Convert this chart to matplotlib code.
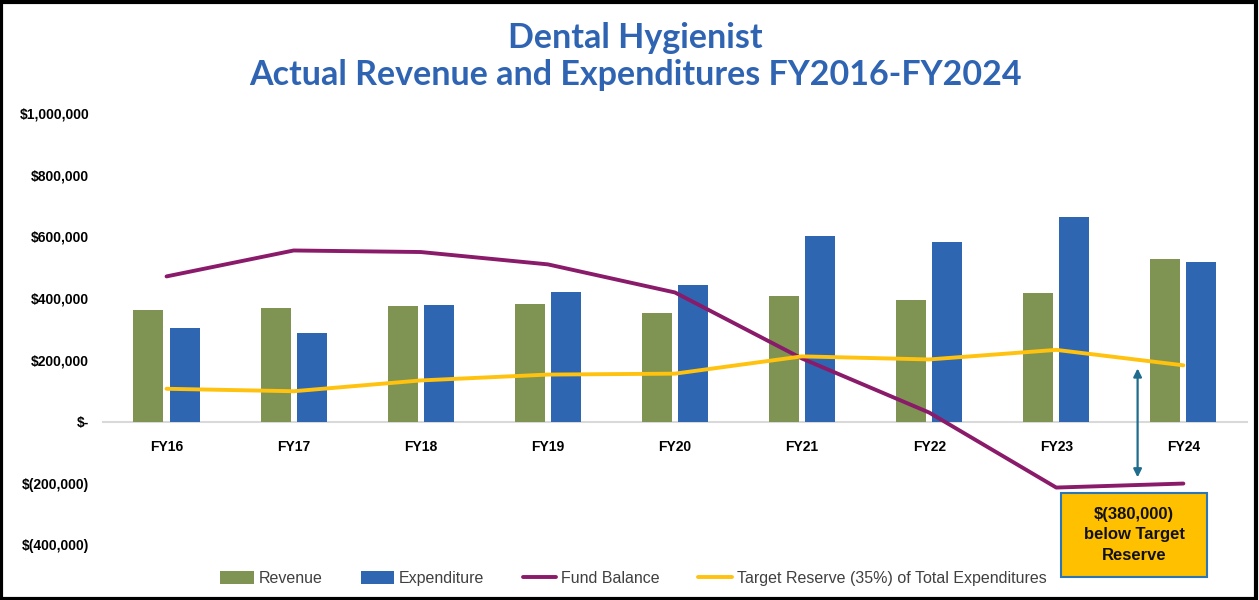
import matplotlib
matplotlib.use("Agg")
import matplotlib.pyplot as plt
import numpy as np
from matplotlib.ticker import FuncFormatter
from matplotlib.patches import Rectangle

categories = ["FY16", "FY17", "FY18", "FY19", "FY20", "FY21", "FY22", "FY23", "FY24"]
revenue = [362000, 367000, 373000, 381000, 351000, 406000, 392000, 417000, 527000]
expenditure = [302000, 286000, 378000, 418000, 443000, 602000, 583000, 662000, 516000]
fund_balance = [470000, 554000, 549000, 509000, 418000, 204000, 29000, -214000, -201000]
target_reserve = [106000, 98000, 133000, 152000, 155000, 211000, 201000, 232000, 182000]
y_ticks = [-400000, -200000, 0, 200000, 400000, 600000, 800000, 1000000]

title_lines = ["Dental Hygienist", "Actual Revenue and Expenditures FY2016-FY2024"]
callout = "$(380,000)\nbelow Target\nReserve"

GREEN = "#7F9452"
BLUE = "#2E66B1"
PURPLE = "#8A1A6A"
GOLD = "#FFC20E"
TITLE_BLUE = "#2F64B3"

fig = plt.figure(figsize=(12.59, 6.0), dpi=100)
ax = fig.add_axes([0.0818, 0.0917, 0.9086, 0.7203])

x = np.arange(len(categories))
w = 0.236
off = 0.142
b1 = ax.bar(x - off, revenue, w, color=GREEN, label="Revenue", zorder=2)
b2 = ax.bar(x + off, expenditure, w, color=BLUE, label="Expenditure", zorder=2)
l1, = ax.plot(x, fund_balance, color=PURPLE, lw=2.8, label="Fund Balance", zorder=3,
              solid_capstyle="round")
l2, = ax.plot(x, target_reserve, color=GOLD, lw=2.8,
              label="Target Reserve (35%) of Total Expenditures", zorder=3,
              solid_capstyle="round")

ax.set_xlim(-0.5, len(categories) - 0.5)
ax.set_ylim(-400000, 1000000)
ax.set_yticks(y_ticks)


def fmt(v, pos):
    if v == 0:
        return "$-"
    if v < 0:
        return "$({:,.0f})".format(-v)
    return "${:,.0f}".format(v)


ax.yaxis.set_major_formatter(FuncFormatter(fmt))
for s in ["top", "right", "left"]:
    ax.spines[s].set_visible(False)
ax.spines["bottom"].set_position(("data", 0))
ax.spines["bottom"].set_color("#D9D9D9")
ax.spines["bottom"].set_linewidth(1.5)
ax.spines["bottom"].set_zorder(1)
ax.set_xticks(x)
ax.set_xticklabels(categories)
ax.tick_params(axis="x", length=0, pad=13)
ax.tick_params(axis="y", length=0, pad=10)
for lab in ax.get_xticklabels() + ax.get_yticklabels():
    lab.set_fontfamily(["Liberation Sans", "DejaVu Sans"])
    lab.set_fontweight("bold")
    lab.set_fontsize(10)
    lab.set_color("#000000")

fig.text(0.505, 0.937, title_lines[0], ha="center", va="center", fontsize=24.5,
         fontweight="bold", color=TITLE_BLUE, family=["Lato", "DejaVu Sans"])
fig.text(0.505, 0.875, title_lines[1], ha="center", va="center", fontsize=24.5,
         fontweight="bold", color=TITLE_BLUE, family=["Lato", "DejaVu Sans"])

# arrow between fund balance and target reserve
ax.annotate("", xy=(7.64, target_reserve[8] - 10000), xytext=(7.64, fund_balance[8] + 20000),
            arrowprops=dict(arrowstyle="<|-|>", color="#1F6C8E", lw=1.6,
                            mutation_scale=12, shrinkA=0, shrinkB=0), zorder=4)

# callout box
fig.patches.append(Rectangle((1061 / 1259, 1 - 577 / 600), 146 / 1259, 84 / 600,
                             transform=fig.transFigure, facecolor="#FFC000",
                             edgecolor="#2E75B6", lw=1.5, zorder=5))
fig.text(1134 / 1259, 1 - 535 / 600, callout, ha="center", va="center",
         fontsize=12, fontweight="bold", color="#111111", linespacing=1.5,
         family=["Liberation Sans", "DejaVu Sans"], zorder=6)

leg = fig.legend([b1, b2, l1, l2],
                 ["Revenue", "Expenditure", "Fund Balance",
                  "Target Reserve (35%) of Total Expenditures"],
                 loc="center", bbox_to_anchor=(0.503, 0.036), ncol=4, frameon=False,
                 handlelength=2.1, handleheight=0.9, columnspacing=2.4, handletextpad=0.3,
                 prop={"family": ["Liberation Sans", "DejaVu Sans"], "size": 11.5})
for t in leg.get_texts():
    t.set_color("#404040")

fig.patches.append(Rectangle((0.001, 0.002), 0.997, 0.995, transform=fig.transFigure,
                             facecolor="none", edgecolor="black", lw=3, zorder=10))

fig.savefig("out.png", dpi=100)
